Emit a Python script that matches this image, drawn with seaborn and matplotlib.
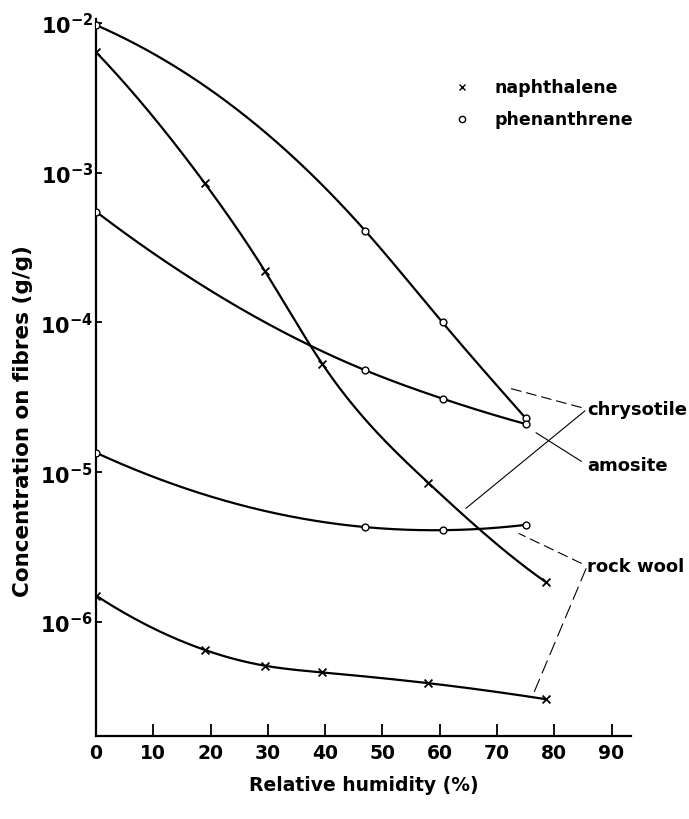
import numpy as np
import pandas as pd
import matplotlib
matplotlib.use('Agg')
import matplotlib.pyplot as plt
import seaborn as sns
from matplotlib.ticker import FixedLocator, NullLocator

# relative humidity (%) at which samples were taken
naph_rh = [0, 19, 29.5, 39.5, 58, 78.5]
phen_rh = [0, 47, 60.5, 75]

# concentration on fibres (g/g)
naph_chrysotile = [6.4e-3, 8.5e-4, 2.2e-4, 5.3e-5, 8.5e-6, 1.85e-6]
naph_rockwool = [1.5e-6, 6.5e-7, 5.1e-7, 4.6e-7, 3.9e-7, 3.05e-7]
phen_chrysotile = [9.7e-3, 4.1e-4, 1.0e-4, 2.3e-5]
phen_amosite = [5.5e-4, 4.8e-5, 3.1e-5, 2.1e-5]
phen_rockwool = [1.35e-5, 4.3e-6, 4.1e-6, 4.45e-6]

x_ticks = [0, 10, 20, 30, 40, 50, 60, 70, 80, 90]
y_ticks = [1e-6, 1e-5, 1e-4, 1e-3, 1e-2]
y_ticklabels = [r'$\mathdefault{10^{-6}}$', r'$\mathdefault{10^{-5}}$', r'$\mathdefault{10^{-4}}$',
                r'$\mathdefault{10^{-3}}$', r'$\mathdefault{10^{-2}}$']


def smooth(x, y, xs):
    # clamped cubic spline through the points, end slopes like pchip
    x = np.asarray(x, float)
    y = np.asarray(y, float)
    n = len(x)
    h = np.diff(x)
    d = np.diff(y) / h
    A = np.zeros((n, n))
    b = np.zeros(n)
    A[0, 0] = 1
    b[0] = ((2 * h[0] + h[1]) * d[0] - h[0] * d[1]) / (h[0] + h[1])
    A[-1, -1] = 1
    b[-1] = ((2 * h[-1] + h[-2]) * d[-1] - h[-1] * d[-2]) / (h[-1] + h[-2])
    for k in range(1, n - 1):
        A[k, k - 1] = h[k]
        A[k, k] = 2 * (h[k - 1] + h[k])
        A[k, k + 1] = h[k - 1]
        b[k] = 3 * (h[k] * d[k - 1] + h[k - 1] * d[k])
    m = np.linalg.solve(A, b)
    i = np.clip(np.searchsorted(x, xs) - 1, 0, n - 2)
    t = (xs - x[i]) / h[i]
    return ((2 * t**3 - 3 * t**2 + 1) * y[i] + (t**3 - 2 * t**2 + t) * h[i] * m[i]
            + (-2 * t**3 + 3 * t**2) * y[i + 1] + (t**3 - t**2) * h[i] * m[i + 1])


sns.set_style('ticks')
plt.rcParams['font.family'] = ['DejaVu Sans']
plt.rcParams['font.weight'] = 'bold'
plt.rcParams['mathtext.default'] = 'regular'
for key in ['text.color', 'axes.labelcolor', 'xtick.color', 'ytick.color', 'axes.edgecolor']:
    plt.rcParams[key] = 'black'

fig = plt.figure(figsize=(6.89, 8.20), dpi=100)
ax = fig.add_axes([0.1393, 0.1012, 0.7765, 0.8744])
ax.set_yscale('log')

series = [
    (naph_rh, naph_chrysotile, 'x'),
    (naph_rh, naph_rockwool, 'x'),
    (phen_rh, phen_chrysotile, 'o'),
    (phen_rh, phen_amosite, 'o'),
    (phen_rh, phen_rockwool, 'o'),
]
for rh, conc, mk in series:
    xs = np.linspace(rh[0], rh[-1], 300)
    ys = 10 ** smooth(rh, np.log10(conc), xs)
    sns.lineplot(x=xs, y=ys, ax=ax, color='black', linewidth=1.6, sort=False)
    if mk == 'x':
        sns.scatterplot(x=rh, y=conc, ax=ax, marker='x', s=32, color='black',
                        linewidth=1.3, zorder=5)
    else:
        sns.scatterplot(x=rh, y=conc, ax=ax, marker='o', s=24, facecolor='white',
                        edgecolor='black', linewidth=1.0, zorder=5)

ax.set_xlim(0, 93.4)
ax.set_ylim(1.73e-7, 1.064e-2)

ax.xaxis.set_major_locator(FixedLocator(x_ticks))
ax.set_xticklabels([str(v) for v in x_ticks], fontsize=13.5, fontweight='bold')
ax.yaxis.set_major_locator(FixedLocator(y_ticks))
ax.yaxis.set_minor_locator(NullLocator())
ax.set_yticklabels(y_ticklabels, fontsize=15, fontweight='bold')
ax.tick_params(axis='x', direction='in', length=9, width=1.3, pad=5)
ax.tick_params(axis='y', direction='in', length=4, width=1.3, pad=2)

sns.despine(ax=ax)
for s in ['left', 'bottom']:
    ax.spines[s].set_linewidth(1.6)

ax.set_xlabel('Relative humidity (%)', fontsize=13.5, fontweight='bold')
ax.set_ylabel('Concentration on fibres (g/g)', fontsize=15.5, fontweight='bold')
ax.xaxis.set_label_coords(0.5, -0.055)
ax.yaxis.set_label_coords(-0.118, 0.44)

# key
ax.plot([0.684], [0.905], marker='x', ms=5, mew=1.0, color='black', transform=ax.transAxes)
ax.plot([0.684], [0.861], marker='o', ms=4.5, mew=1.0, mfc='white', color='black',
        transform=ax.transAxes)
ax.text(0.744, 0.905, 'naphthalene', transform=ax.transAxes, fontsize=12.5,
        fontweight='bold', va='center')
ax.text(0.744, 0.861, 'phenanthrene', transform=ax.transAxes, fontsize=12.5,
        fontweight='bold', va='center')

# fibre labels with leader lines
leaders = [
    ('chrysotile', (71.5, 3.7e-5), 0.456, (0, (9, 5))),
    ('chrysotile', (64, 5.5e-6), 0.456, '-'),
    ('amosite', (76.2, 1.9e-5), 0.378, '-'),
    ('rock wool', (73.2, 4.0e-6), 0.237, (0, (9, 5))),
    ('rock wool', (76.2, 3.2e-7), 0.237, (0, (12, 6))),
]
for i, (lab, xy, ty, ls) in enumerate(leaders):
    first = i == 0 or leaders[i - 1][0] != lab
    ax.annotate(lab if first else '', xy=xy, xycoords='data',
                xytext=(0.918, ty), textcoords='axes fraction',
                fontsize=13, fontweight='bold', ha='left', va='center',
                color='black' if first else 'none',
                annotation_clip=False,
                arrowprops=dict(arrowstyle='-', color='black', lw=0.8, linestyle=ls,
                                relpos=(0, 0.5), shrinkA=2, shrinkB=3))

plt.savefig('out.png', dpi=100)
